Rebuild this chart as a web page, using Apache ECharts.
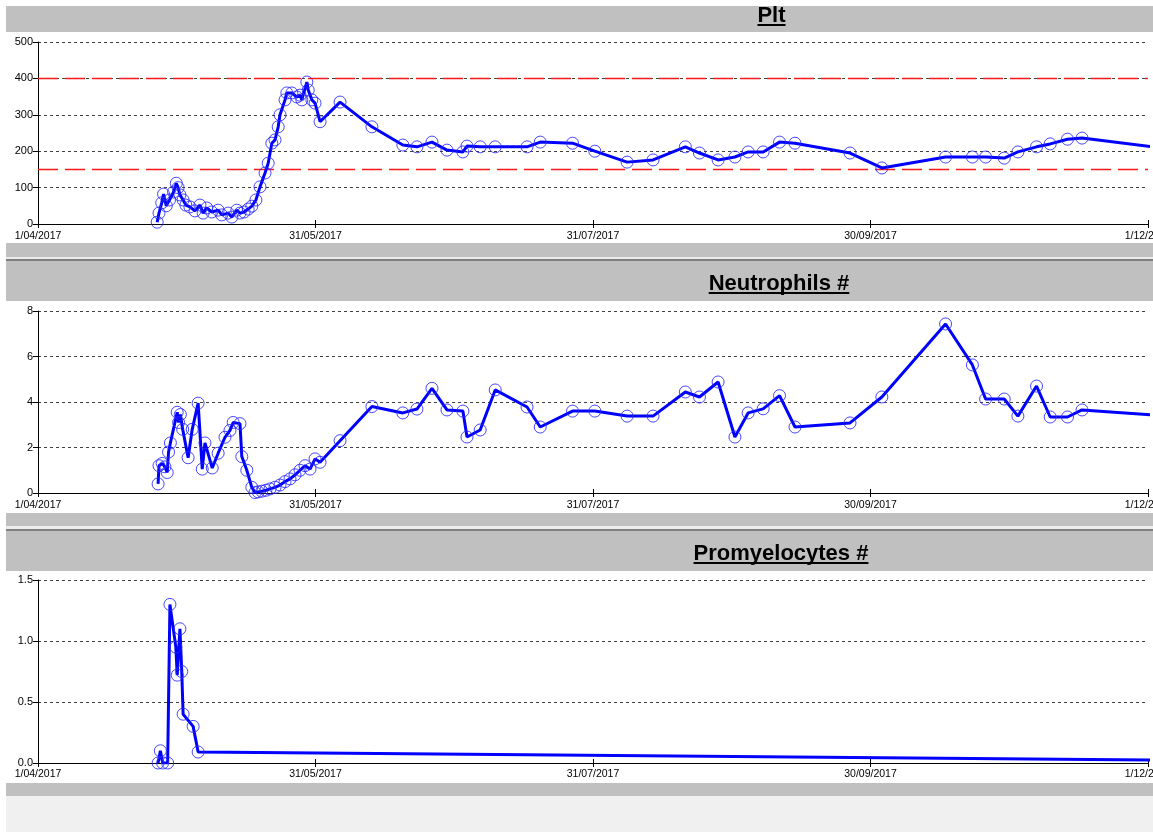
<!DOCTYPE html>
<html><head><meta charset="utf-8">
<script src="https://cdn.jsdelivr.net/npm/echarts@6/dist/echarts.min.js"></script>
<style>html,body{margin:0;padding:0;background:#fff;}#chart{width:1153px;height:832px;}</style>
</head><body><div id="chart"></div>
<script>
// ---- tick labels ----
const xTickLabels = ['1/04/2017', '31/05/2017', '31/07/2017', '30/09/2017', '1/12/2017'];
const X_INTERVAL = 61;           // days between x ticks (x = days since 1/04/2017)
const pltTicks = ['0', '100', '200', '300', '400', '500'];
const neutTicks = ['0', '2', '4', '6', '8'];
const promTicks = ['0.0', '0.5', '1.0', '1.5'];
const pltRefLines = [150, 400];
const titles = ['Plt', 'Neutrophils #', 'Promyelocytes #'];

// ---- data (x = days since 1/04/2017) ----
const pltDay = [26.2, 26.6, 27.2, 27.6, 28.2, 28.9, 29.8, 30.4, 30.8, 31.2, 31.9, 32.5, 33.4, 34.5, 35.6, 36.3, 37.1, 38.2, 39.6, 40.4, 41.8, 42.6, 43.7, 44.4, 45.3, 46.2, 47.0, 47.9,
  48.8, 49.9, 50.6, 51.4, 52.1, 52.8, 53.2, 54.3, 54.7, 55.8, 56.9, 57.6, 58.0, 59.1, 59.4, 60.2, 60.9, 62.0, 66.4, 73.4,
  80.2, 83.3, 86.6, 89.9, 93.4, 94.3, 97.2, 100.5, 107.5, 110.4, 117.5, 122.4, 129.5, 135.2, 142.3, 145.4, 149.5, 153.2, 156.1, 159.4, 163.0, 166.4, 178.5, 185.5, 199.5, 205.4, 208.3, 212.4, 215.4, 219.5, 222.5, 226.3, 229.5, 248.8];
const pltVal = [5, 30, 58, 82, 50, 66, 88, 112, 100, 80, 66, 52, 47, 36, 52, 30, 44, 33, 38, 25, 30, 19, 38, 30, 33, 41, 49, 66,
  102, 140, 167, 222, 231, 267, 300, 341, 360, 360, 349, 354, 341, 390, 368, 341, 332, 281, 335, 267,
  217, 212, 225, 203, 198, 214, 212, 212, 212, 225, 222, 200, 170, 176, 212, 195, 176, 184, 198, 198, 225, 222, 195, 154, 184, 184, 184, 181, 198, 212, 220, 233, 236, 206];

const neutDay = [26.4, 26.6, 27.3, 27.9, 28.4, 28.7, 29.1, 30.6, 30.9, 31.3, 31.8, 33.0, 33.9, 35.2, 36.1, 36.7, 38.3, 39.6, 41.1, 42.2, 42.9, 44.4, 44.8, 45.9, 47.0, 47.7,
  48.4, 49.2, 50.1, 51.0, 52.1, 53.2, 54.3, 55.4, 56.5, 57.6, 58.7, 59.8, 60.9, 62.0, 66.4, 73.4,
  80.2, 83.3, 86.6, 89.9, 93.4, 94.3, 97.2, 100.5, 107.5, 110.4, 117.5, 122.4, 129.5, 135.2, 142.3, 145.4, 149.5, 153.2, 156.1, 159.4, 163.0, 166.4, 178.5, 185.5, 199.5, 205.4, 208.3, 212.4, 215.4, 219.5, 222.5, 226.3, 229.5, 248.8];
const neutVal = [0.4, 1.2, 1.3, 1.15, 0.9, 1.8, 2.2, 3.55, 3.1, 3.45, 2.8, 1.55, 2.8, 3.95, 1.05, 2.2, 1.1, 1.75, 2.45, 2.75, 3.1, 3.05, 1.6, 1.0, 0.25, 0.02,
  0.05, 0.08, 0.12, 0.18, 0.25, 0.35, 0.5, 0.62, 0.8, 1.0, 1.2, 1.05, 1.5, 1.35, 2.3, 3.8,
  3.52, 3.69, 4.6, 3.65, 3.6, 2.46, 2.77, 4.53, 3.78, 2.9, 3.6, 3.6, 3.38, 3.38, 4.44, 4.22, 4.88, 2.46, 3.52, 3.7, 4.28, 2.9, 3.08, 4.22, 7.43, 5.63, 4.13, 4.13, 3.38, 4.7, 3.34, 3.34, 3.65, 3.38];

const promDay = [26.4, 26.9, 27.4, 28.5, 29.0, 30.3, 30.6, 31.2, 31.6, 31.9, 34.1, 35.2, 326];
const promVal = [0, 0.1, 0, 0, 1.3, 0.95, 0.72, 1.1, 0.75, 0.4, 0.3, 0.09, 0];

// ---- chart ----
const FONT = '"Liberation Sans", Arial, sans-serif';
const X_MAX = X_INTERVAL * (xTickLabels.length - 1);
const gridBase = { left: 38, right: 5, containLabel: false, outerBoundsMode: 'none' };
const grids = [
  Object.assign({ top: 42, height: 182 }, gridBase),
  Object.assign({ top: 311, height: 182 }, gridBase),
  Object.assign({ top: 580, height: 183 }, gridBase)
];
function makeX(gi, inside, margin) {
  return {
    type: 'value', gridIndex: gi, position: 'bottom',
    min: 0, max: X_MAX, interval: X_INTERVAL,
    axisLine: { show: !inside, onZero: false, lineStyle: { color: '#000', width: 1 } },
    axisTick: { show: true, inside: inside, length: 4, lineStyle: { color: '#000' } },
    axisLabel: { show: !inside, margin: margin, fontSize: 10.5, fontFamily: FONT, color: '#000',
      hideOverlap: false, formatter: v => xTickLabels[Math.round(v / X_INTERVAL)] },
    splitLine: { show: false }
  };
}
function makeY(gi, labels, interval) {
  return {
    type: 'value', gridIndex: gi, position: 'left',
    min: 0, max: interval * (labels.length - 1), interval: interval,
    axisLine: { show: true, onZero: false, lineStyle: { color: '#000' } },
    axisTick: { show: true, length: 5, lineStyle: { color: '#000' } },
    axisLabel: { margin: 5, fontSize: 11, fontFamily: FONT, color: '#000',
      formatter: v => labels[Math.round(v / interval)] },
    splitLine: { show: true, lineStyle: { color: '#404040', type: [3, 3], width: 1 } }
  };
}
function makeSeries(gi, days, vals) {
  return {
    type: 'line', xAxisIndex: gi * 2, yAxisIndex: gi,
    data: days.map((d, i) => [d, vals[i]]),
    symbol: 'circle', symbolSize: 12, showSymbol: true,
    lineStyle: { color: '#0000ff', width: 3 },
    itemStyle: { color: 'rgba(0,0,0,0)', borderColor: 'rgba(40,40,255,0.85)', borderWidth: 1 },
    emphasis: { disabled: true }, clip: true, z: 3
  };
}
function refSeries(v) {
  return {
    type: 'line', xAxisIndex: 0, yAxisIndex: 0, data: [[0, v], [X_MAX, v]],
    symbol: 'none', silent: true, emphasis: { disabled: true }, z: 2,
    lineStyle: { color: '#ff1a1a', type: [20, 7], width: 1.5 }
  };
}

// layout bands
const graphic = [];
function band(y, h, fill) {
  graphic.push({ type: 'rect', silent: true, z: -10, shape: { x: 6, y: y, width: 1147, height: h }, style: { fill: fill } });
}
band(6, 26, '#c0c0c0');
band(243, 14, '#c0c0c0'); band(257, 2, '#ececec'); band(259, 2, '#808080'); band(261, 40, '#c0c0c0');
band(513, 13, '#c0c0c0'); band(526, 3, '#ececec'); band(529, 2, '#808080'); band(531, 40, '#c0c0c0');
band(783, 13, '#c0c0c0'); band(796, 36, '#f0f0f0');

// titles with underline
const titlePos = [[771.5, 16], [779, 284], [781, 554]];
const ctx = document.createElement('canvas').getContext('2d');
const titleFont = 'bold 22px "Liberation Sans", Arial, sans-serif';
ctx.font = titleFont;
titles.forEach((t, i) => {
  const [cx, cy] = titlePos[i];
  const w = ctx.measureText(t).width;
  graphic.push({ type: 'text', silent: true, z: 10, x: cx, y: cy,
    style: { text: t, font: titleFont, fill: '#000', textAlign: 'center', align: 'center', textVerticalAlign: 'middle', verticalAlign: 'middle' } });
  graphic.push({ type: 'rect', silent: true, z: 10, shape: { x: cx - w / 2, y: cy + 8, width: w, height: 2 }, style: { fill: '#000' } });
});

const chart = echarts.init(document.getElementById('chart'), null, { renderer: 'canvas' });
chart.setOption({
  animation: false,
  backgroundColor: '#fff',
  grid: grids,
  xAxis: [makeX(0, false, 7), makeX(0, true, 7), makeX(1, false, 7), makeX(1, true, 7), makeX(2, false, 6), makeX(2, true, 6)],
  yAxis: [makeY(0, pltTicks, 100), makeY(1, neutTicks, 2), makeY(2, promTicks, 0.5)],
  graphic: graphic,
  series: pltRefLines.map(refSeries).concat([
    makeSeries(0, pltDay, pltVal),
    makeSeries(1, neutDay, neutVal),
    makeSeries(2, promDay, promVal)
  ])
});
</script></body></html>
